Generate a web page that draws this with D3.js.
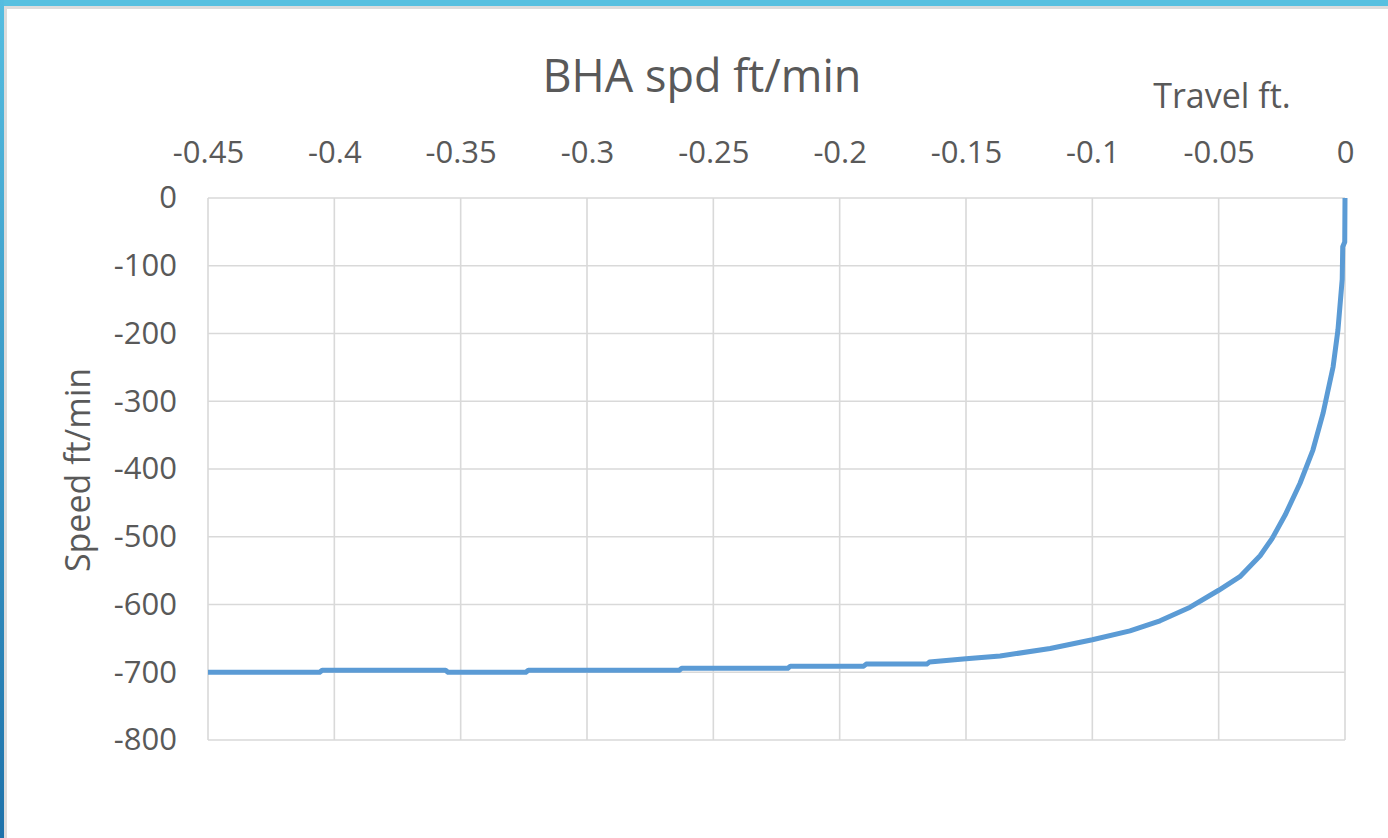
<!DOCTYPE html>
<html>
<head>
<meta charset="utf-8">
<script src="https://cdn.jsdelivr.net/npm/d3@7"></script>
<style>
  html, body { margin: 0; padding: 0; background: #fff; }
  svg { display: block; }
  text { font-family: "Open Sans", "Noto Sans", sans-serif; fill: #595959; }
</style>
</head>
<body>
<svg id="chart" width="1388" height="838"></svg>
<script>
// Travel (ft) and BHA speed (ft/min) samples
const travel = [-0.45, -0.4058, -0.4048, -0.3560, -0.3550, -0.3242, -0.3232, -0.2635, -0.2625,
  -0.2205, -0.2195, -0.1905, -0.1895, -0.1655, -0.1645, -0.15, -0.1365, -0.1167, -0.10,
  -0.0851, -0.0732, -0.0613, -0.05, -0.0416, -0.0336, -0.0289, -0.0237, -0.0178, -0.0127,
  -0.0087, -0.0047, -0.0028, -0.0011, -0.0009, -0.0001, 0];
const speed = [-700, -700, -697, -697, -700, -700, -697, -697, -694,
  -694, -691, -691, -688, -688, -685, -680, -676, -665, -652,
  -639, -624, -604, -579, -559, -528, -503, -468, -421, -372,
  -318, -249, -195, -120, -72, -65, 0];

const xTicks = [-0.45, -0.4, -0.35, -0.3, -0.25, -0.2, -0.15, -0.1, -0.05, 0];
const xTickLabels = ["-0.45", "-0.4", "-0.35", "-0.3", "-0.25", "-0.2", "-0.15", "-0.1", "-0.05", "0"];
const yTicks = [0, -100, -200, -300, -400, -500, -600, -700, -800];
const yTickLabels = ["0", "-100", "-200", "-300", "-400", "-500", "-600", "-700", "-800"];

const titleText = "BHA spd ft/min";
const xTitle = "Travel ft.";
const yTitle = "Speed ft/min";

const svg = d3.select("#chart");
const W = 1388, H = 838;
const plotL = 208, plotR = 1345, plotT = 198, plotB = 740;

// window frame
const defs = svg.append("defs");
const grad = defs.append("linearGradient").attr("id", "edge").attr("x1", 0).attr("y1", 0).attr("x2", 0).attr("y2", 1);
grad.append("stop").attr("offset", "0%").attr("stop-color", "#55bde0");
grad.append("stop").attr("offset", "100%").attr("stop-color", "#1e72aa");
svg.append("rect").attr("x", 0).attr("y", 0).attr("width", W).attr("height", H).attr("fill", "#fff");
svg.append("rect").attr("x", 0).attr("y", 6).attr("width", W).attr("height", 3).attr("fill", "#dcdcdc");
svg.append("rect").attr("x", 4).attr("y", 6).attr("width", 3).attr("height", H).attr("fill", "#dcdcdc");
svg.append("rect").attr("x", 0).attr("y", 0).attr("width", W).attr("height", 6).attr("fill", "#57c0e0");
svg.append("rect").attr("x", 0).attr("y", 0).attr("width", 4).attr("height", H).attr("fill", "url(#edge)");

const x = d3.scaleLinear().domain([-0.45, 0]).range([plotL, plotR]);
const y = d3.scaleLinear().domain([-800, 0]).range([plotB, plotT]);

// gridlines
const grid = svg.append("g").attr("stroke", "#d9d9d9").attr("stroke-width", 1.6);
grid.selectAll("line.v").data(xTicks).join("line").attr("class", "v")
  .attr("x1", d => x(d)).attr("x2", d => x(d)).attr("y1", plotT).attr("y2", plotB);
grid.selectAll("line.h").data(yTicks).join("line").attr("class", "h")
  .attr("x1", plotL).attr("x2", plotR).attr("y1", d => y(d)).attr("y2", d => y(d));

// axes (labels only)
const xAxis = d3.axisTop(x).tickValues(xTicks).tickSize(0).tickPadding(35)
  .tickFormat((d, i) => xTickLabels[i]);
const gx = svg.append("g").attr("transform", `translate(0,${plotT})`).call(xAxis);
gx.select(".domain").remove();
gx.selectAll("text").attr("font-size", 31).attr("fill", "#595959")
  .attr("font-family", '"Open Sans", sans-serif');

const yAxis = d3.axisLeft(y).tickValues(yTicks).tickSize(0).tickPadding(31)
  .tickFormat((d, i) => yTickLabels[i]);
const gy = svg.append("g").attr("transform", `translate(${plotL},0)`).call(yAxis);
gy.select(".domain").remove();
gy.selectAll("text").attr("font-size", 31).attr("fill", "#595959")
  .attr("font-family", '"Open Sans", sans-serif');

// curve
const pts = travel.map((t, i) => [t, speed[i]]);
svg.append("path").datum(pts)
  .attr("fill", "none").attr("stroke", "#5b9bd5").attr("stroke-width", 5)
  .attr("stroke-linejoin", "round").attr("stroke-linecap", "butt")
  .attr("d", d3.line().x(d => x(d[0])).y(d => y(d[1])));

// titles
svg.append("text").attr("x", 702).attr("y", 92).attr("text-anchor", "middle")
  .attr("font-size", 45).text(titleText);
svg.append("text").attr("x", 1222).attr("y", 108).attr("text-anchor", "middle")
  .attr("font-size", 34).text(xTitle);
svg.append("text").attr("transform", "translate(90,470) rotate(-90)").attr("text-anchor", "middle")
  .attr("font-size", 34).text(yTitle);
</script>
</body>
</html>
